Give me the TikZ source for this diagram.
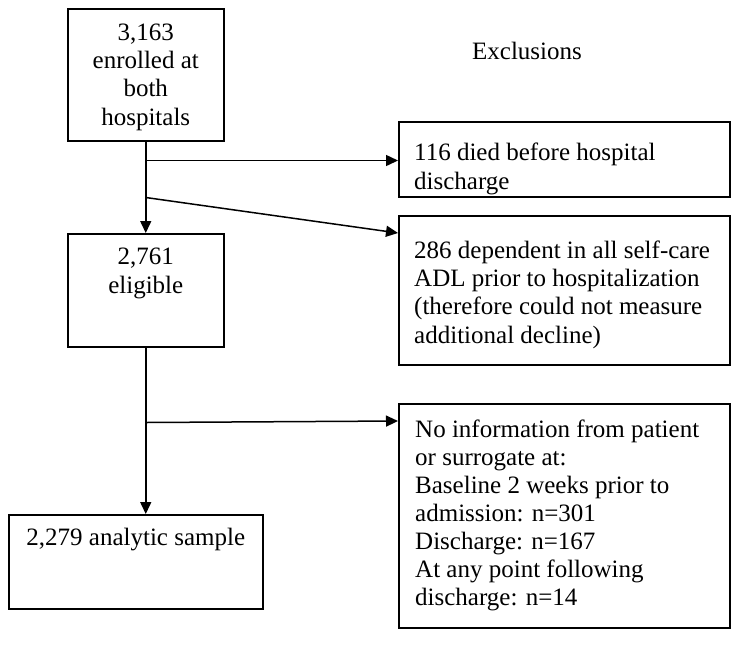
\documentclass[tikz,border=0pt]{standalone}
\usepackage{fontspec}
\setmainfont{Liberation Serif}
\usetikzlibrary{arrows.meta,calc}
\begin{document}
\begin{tikzpicture}[x=1pt,y=-1pt,
  boxline/.style={draw=black,line width=1.5pt,inner sep=0pt,anchor=north west},
  txt/.style={inner sep=0pt,font=\fontsize{25}{28.3}\selectfont},
  ctxt/.style={txt,align=center,anchor=base},
  ltxt/.style={txt,align=left,anchor=base west},
  conn/.style={line width=1.5pt,-{Triangle[length=12pt,width=11pt]}}]
\useasboundingbox (0,0) rectangle (735,646);
% boxes
\node[boxline,minimum width=156pt,minimum height=132pt] (b1) at (67,8) {};
\node[boxline,minimum width=156pt,minimum height=113pt] (b4) at (67,233) {};
\node[boxline,minimum width=254pt,minimum height=94pt] (b6) at (8,514) {};
\node[boxline,minimum width=331pt,minimum height=75pt] (b2) at (398,121) {};
\node[boxline,minimum width=331pt,minimum height=149pt] (b3) at (398,215) {};
\node[boxline,minimum width=331pt,minimum height=224pt] (b5) at (398,403) {};
% texts (base anchor = baseline of the last line)
\node[ctxt] (t1) at ($(b1.north)+(0,117)$) {3,163\\enrolled at\\both\\hospitals};
\node[ctxt] (t4) at ($(b4.north)+(0,60)$) {2,761\\eligible};
\node[ctxt] (t6) at ($(b6.north)+(0,31)$) {2,279 analytic sample};
\node[ltxt] (t2) at ($(b2.north west)+(16,68)$) {116 died before hospital\\discharge};
\node[ltxt] (t3) at ($(b3.north west)+(16,128)$) {286 dependent in all self-care\\ADL prior to hospitalization\\(therefore could not measure\\additional decline)};
\node[ltxt,font=\fontsize{25}{28}\selectfont] (t5) at ($(b5.north west)+(17,202)$) {No information from patient\\or surrogate at:\\Baseline 2 weeks prior to\\admission: n=301\\Discharge: n=167\\At any point following\\discharge: n=14};
\node[txt,anchor=center] (ex) at (527,51) {Exclusions};
% connectors
\coordinate (j1) at ($(b1.south)+(0,19)$);
\coordinate (j2) at ($(b1.south)+(0,56)$);
\coordinate (e3) at ($(b3.north west)+(0,18)$);
\coordinate (j3) at ($(b4.south)+(0,75)$);
\coordinate (e5) at ($(b5.north west)+(0,18)$);
\coordinate (e6) at (b4.south |- b6.north);
\draw[conn] (b1.south) -- (b4.north);
\draw[conn] (j1) -- (j1 -| b2.west);
\draw[conn] (j2) -- (e3);
\draw[conn] (b4.south) -- (e6);
\draw[conn] (j3) -- (e5);
\end{tikzpicture}
\end{document}
